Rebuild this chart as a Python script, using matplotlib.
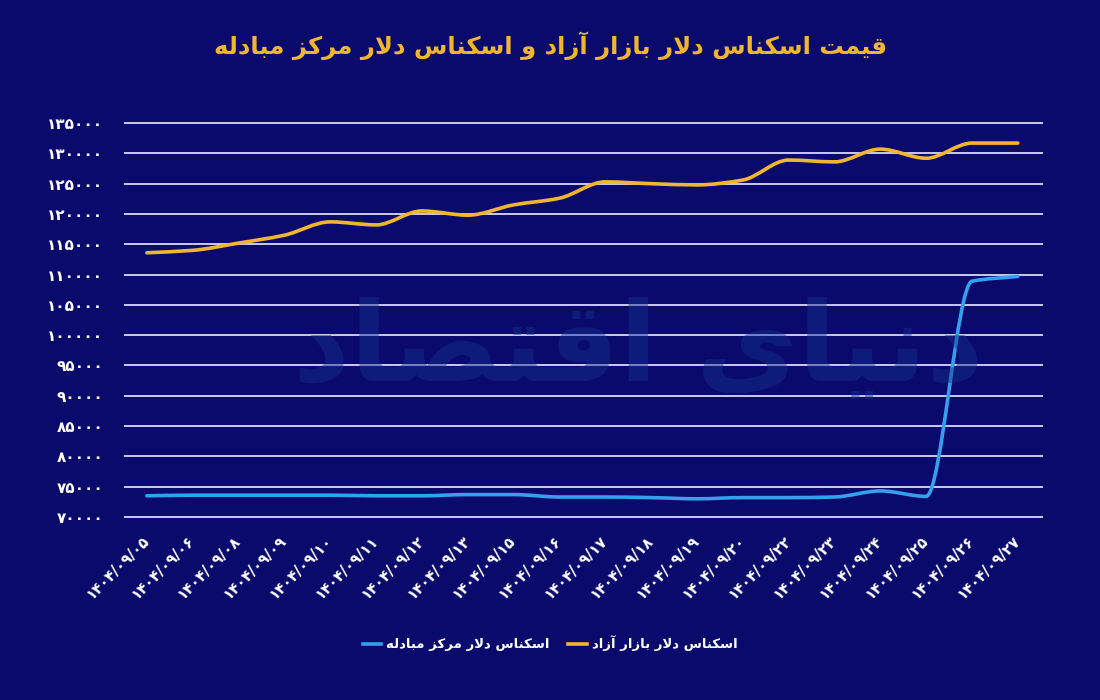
import matplotlib
matplotlib.use("Agg")
import matplotlib.pyplot as plt
from matplotlib.path import Path
from matplotlib.patches import PathPatch
from matplotlib.lines import Line2D
import numpy as np

### Data
dates = ["1404/09/05", "1404/09/06", "1404/09/08", "1404/09/09", "1404/09/10",
         "1404/09/11", "1404/09/12", "1404/09/13", "1404/09/15", "1404/09/16",
         "1404/09/17", "1404/09/18", "1404/09/19", "1404/09/20", "1404/09/22",
         "1404/09/23", "1404/09/24", "1404/09/25", "1404/09/26", "1404/09/27"]
free_market = [113600, 114000, 115200, 116500, 118700, 118200, 120500, 119800, 121500, 122600,
               125300, 125000, 124800, 125600, 128900, 128600, 130700, 129200, 131700, 131700]
exchange_center = [73500, 73600, 73600, 73600, 73600, 73500, 73500, 73700, 73700, 73300,
                   73300, 73200, 73000, 73200, 73200, 73300, 74300, 73400, 108900, 109700]
y_ticks = list(range(70000, 135001, 5000))

title = "قیمت اسکناس دلار بازار آزاد و اسکناس دلار مرکز مبادله"
label_free = "اسکناس دلار بازار آزاد"
label_center = "اسکناس دلار مرکز مبادله"
watermark = "دنیای اقتصاد"

BG = "#0a0a6c"
YELLOW = "#f2b62e"
BLUE = "#35a0ee"

#region: persian text helpers
FORMS = {
    "ا": (0xFE8D, 0xFE8E), "آ": (0xFE81, 0xFE82), "د": (0xFEA9, 0xFEAA),
    "ذ": (0xFEAB, 0xFEAC), "ر": (0xFEAD, 0xFEAE), "ز": (0xFEAF, 0xFEB0),
    "ژ": (0xFB8A, 0xFB8B), "و": (0xFEED, 0xFEEE),
    "ب": (0xFE8F, 0xFE90, 0xFE91, 0xFE92), "پ": (0xFB56, 0xFB57, 0xFB58, 0xFB59),
    "ت": (0xFE95, 0xFE96, 0xFE97, 0xFE98), "ث": (0xFE99, 0xFE9A, 0xFE9B, 0xFE9C),
    "ج": (0xFE9D, 0xFE9E, 0xFE9F, 0xFEA0), "چ": (0xFB7A, 0xFB7B, 0xFB7C, 0xFB7D),
    "ح": (0xFEA1, 0xFEA2, 0xFEA3, 0xFEA4), "خ": (0xFEA5, 0xFEA6, 0xFEA7, 0xFEA8),
    "س": (0xFEB1, 0xFEB2, 0xFEB3, 0xFEB4), "ش": (0xFEB5, 0xFEB6, 0xFEB7, 0xFEB8),
    "ص": (0xFEB9, 0xFEBA, 0xFEBB, 0xFEBC), "ض": (0xFEBD, 0xFEBE, 0xFEBF, 0xFEC0),
    "ط": (0xFEC1, 0xFEC2, 0xFEC3, 0xFEC4), "ظ": (0xFEC5, 0xFEC6, 0xFEC7, 0xFEC8),
    "ع": (0xFEC9, 0xFECA, 0xFECB, 0xFECC), "غ": (0xFECD, 0xFECE, 0xFECF, 0xFED0),
    "ف": (0xFED1, 0xFED2, 0xFED3, 0xFED4), "ق": (0xFED5, 0xFED6, 0xFED7, 0xFED8),
    "ک": (0xFB8E, 0xFB8F, 0xFB90, 0xFB91), "گ": (0xFB92, 0xFB93, 0xFB94, 0xFB95),
    "ل": (0xFEDD, 0xFEDE, 0xFEDF, 0xFEE0), "م": (0xFEE1, 0xFEE2, 0xFEE3, 0xFEE4),
    "ن": (0xFEE5, 0xFEE6, 0xFEE7, 0xFEE8), "ه": (0xFEE9, 0xFEEA, 0xFEEB, 0xFEEC),
    "ی": (0xFBFC, 0xFBFD, 0xFBFE, 0xFBFF),
}
LAM_ALEF = {"ا": (0xFEFB, 0xFEFC), "آ": (0xFEF5, 0xFEF6)}


def out_lamalef(out):
    return bool(out) and ord(out[-1]) in (0xFEFB, 0xFEFC, 0xFEF5, 0xFEF6)


def fa(text):
    # join letters into presentation forms, then reverse for right-to-left
    out = []
    n = len(text)
    i = 0
    while i < n:
        c = text[i]
        if c not in FORMS:
            out.append(c)
            i += 1
            continue
        prev = text[i - 1] if i > 0 else ""
        joins_prev = prev in FORMS and len(FORMS[prev]) == 4 and not out_lamalef(out)
        nxt = text[i + 1] if i + 1 < n else ""
        if c == "ل" and nxt in LAM_ALEF:
            out.append(chr(LAM_ALEF[nxt][1 if joins_prev else 0]))
            i += 2
            continue
        f = FORMS[c]
        joins_next = len(f) == 4 and nxt in FORMS
        if joins_prev and joins_next:
            g = f[3]
        elif joins_prev:
            g = f[1]
        elif joins_next:
            g = f[2]
        else:
            g = f[0]
        out.append(chr(g))
        i += 1
    return "".join(reversed(out))


def fa_digits(s):
    return str(s).translate(str.maketrans("0123456789", "۰۱۲۳۴۵۶۷۸۹"))


def smooth_path(xs, ys):
    # monotone cubic tangents -> bezier segments
    xs = np.asarray(xs, float)
    ys = np.asarray(ys, float)
    d = np.diff(ys) / np.diff(xs)
    m = np.zeros_like(ys)
    m[0], m[-1] = d[0], d[-1]
    for k in range(1, len(ys) - 1):
        if d[k - 1] * d[k] > 0:
            m[k] = 2 / (1 / d[k - 1] + 1 / d[k])
    verts = [(xs[0], ys[0])]
    codes = [Path.MOVETO]
    for k in range(len(xs) - 1):
        h = xs[k + 1] - xs[k]
        verts += [(xs[k] + h / 3, ys[k] + m[k] * h / 3),
                  (xs[k + 1] - h / 3, ys[k + 1] - m[k + 1] * h / 3),
                  (xs[k + 1], ys[k + 1])]
        codes += [Path.CURVE4] * 3
    return Path(verts, codes)
#endregion

plt.rcParams["font.family"] = ["DejaVu Sans"]

fig = plt.figure(figsize=(11, 7), dpi=100, facecolor=BG)
ax = fig.add_axes([0.1127, 0.2571, 0.8355, 0.5714], facecolor=BG)

x = np.arange(len(dates))

# faint watermark in the background
fig.text(0.58, 0.50, fa(watermark), fontsize=80, fontweight="bold", color="#14308f",
         alpha=0.45, ha="center", va="center", zorder=0)

ax.add_patch(PathPatch(smooth_path(x, free_market), fill=False, edgecolor=YELLOW,
                       lw=2.6, capstyle="round", zorder=3))
ax.add_patch(PathPatch(smooth_path(x, exchange_center), fill=False, edgecolor=BLUE,
                       lw=2.6, capstyle="round", zorder=3))

ax.set_xlim(-0.5, 19.55)
ax.set_ylim(69500, 135500)
ax.set_yticks(y_ticks)
ax.set_yticklabels([fa_digits(v) for v in y_ticks], color="white", fontsize=11, fontweight="bold")
ax.set_xticks(x)
ax.set_xticklabels([fa_digits(d) for d in dates], rotation=45, rotation_mode="anchor",
                   ha="right", va="center", color="white", fontsize=10.5, fontweight="bold")
ax.tick_params(axis="y", length=0, pad=15)
ax.tick_params(axis="x", length=0, pad=13)
ax.grid(axis="y", color="#c9c9f2", lw=1.4)
ax.set_axisbelow(True)
for s in ax.spines.values():
    s.set_visible(False)
ax.patch.set_alpha(0)

fig.text(0.5, 0.935, fa(title), color=YELLOW, fontsize=17.5, fontweight="bold",
         ha="center", va="center")

handles = [Line2D([], [], color=BLUE, lw=2.6), Line2D([], [], color=YELLOW, lw=2.6)]
leg = fig.legend(handles, [fa(label_center), fa(label_free)], loc="center",
                 bbox_to_anchor=(0.5, 0.081), ncol=2, frameon=False, handlelength=1.4,
                 handletextpad=0.4, columnspacing=1.4,
                 prop={"size": 9.5, "weight": "bold"})
for t in leg.get_texts():
    t.set_color("white")

fig.savefig("out.png", dpi=100, facecolor=BG)
